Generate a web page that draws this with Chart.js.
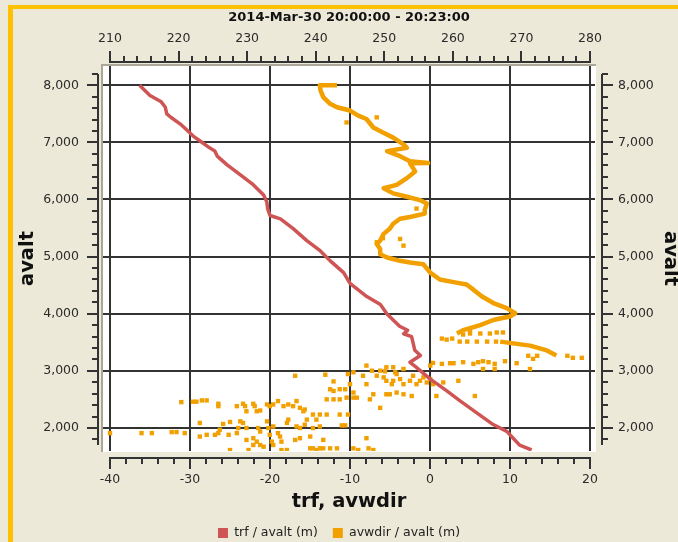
<!DOCTYPE html>
<html><head><meta charset="utf-8">
<script src="https://cdn.jsdelivr.net/npm/chart.js@4"></script>
<style>html,body{margin:0;padding:0;background:#ECE9D8;}canvas{display:block;}</style>
</head><body>
<canvas id="c" width="678" height="542"></canvas>
<script>
const titleText = '2014-Mar-30 20:00:00 - 20:23:00';
const xTitle = 'trf, avwdir';
const yTitle = 'avalt';
const trfLabel = 'trf / avalt (m)';
const avwdirLabel = 'avwdir / avalt (m)';

const bottomTicks = [-40, -30, -20, -10, 0, 10, 20];
const topTicks = [210, 220, 230, 240, 250, 260, 270, 280];
const altTicks = [2000, 3000, 4000, 5000, 6000, 7000, 8000];

const trfValues = [-36.3,-35.0,-33.6,-33.1,-32.9,-32.4,-31.2,-29.6,-28.7,-27.5,-26.9,-26.6,-25.4,-23.7,-22.1,-20.8,-20.4,-20.3,-20.0,-18.7,-17.1,-15.4,-13.7,-12.5,-10.8,-10.0,-7.9,-6.2,-5.4,-3.8,-2.8,-3.3,-2.3,-2.1,-1.9,-1.2,-2.5,-1.7,0.0,2.1,3.8,5.8,7.9,9.6,10.4,11.2,12.7];
const trfAlt = [8000,7820,7710,7620,7500,7440,7320,7110,7020,6900,6850,6760,6610,6430,6260,6080,5960,5840,5720,5660,5490,5280,5100,4930,4720,4530,4300,4160,4000,3780,3710,3650,3600,3480,3360,3270,3150,3060,2860,2650,2470,2270,2060,1940,1820,1700,1615];

const avwdirTraceValues = [243.1,240.6,240.7,241.1,242.1,243.1,245.0,246.2,247.4,248.4,249.8,251.3,252.8,253.3,250.4,252.3,253.75,256.4,253.75,254.5,253.3,251.8,249.9,251.3,253.3,255.2,256.2,255.9,255.9,253.75,252.3,251.3,250.8,249.9,249.4,248.9,249.4,249.4,250.4,252.3,253.75,255.7,256.7,258.1,260.1,262.0,263.0,264.2,265.9,267.85,269.1,268.3,265.9,264.0,261.5,260.6];
const avwdirTraceAlt = [8000,8000,7911,7792,7675,7615,7557,7468,7409,7260,7172,7083,6966,6906,6847,6758,6670,6640,6634,6492,6374,6256,6196,6107,6049,5990,5930,5813,5753,5694,5664,5575,5487,5398,5281,5221,5132,5043,4985,4926,4896,4866,4719,4600,4554,4511,4422,4305,4187,4098,4009,3951,3890,3802,3713,3654];

const avwdirBranchValues = [266.9,269.1,271.25,273.7,275.1];
const avwdirBranchAlt = [3512,3477,3442,3358,3270];

const avwdirScatterValues = [
258.4,259.1,259.9,261.0,262.1,263.5,265.0,266.3,261.5,262.5,264.0,265.4,266.4,267.3,262.5,271.0,271.7,272.3,276.7,277.5,278.8,
256.7,257.1,258.4,259.6,260.1,261.5,263.0,263.7,264.4,265.2,266.1,267.6,269.3,264.4,266.1,271.25,260.8,263.2,257.6,
250.1,251.3,251.6,252.8,250.3,251.1,252.3,252.8,253.75,254.2,254.7,255.2,255.7,256.2,256.7,257.1,258.6,250.3,251.8,252.8,254.0,249.4,
210.0,214.6,216.1,219.0,219.7,220.9,220.4,222.1,222.6,223.4,224.1,225.8,225.8,228.5,229.4,229.7,229.9,230.9,231.1,231.4,231.9,232.9,233.3,233.8,234.5,235.3,236.0,236.7,237.2,237.7,238.2,238.4,
237.0,241.4,242.6,242.1,242.6,243.5,241.6,242.6,243.5,244.5,245.5,246.0,244.7,245.5,245.0,244.3,245.5,
247.4,248.2,246.9,247.4,248.9,249.4,249.9,250.3,251.3,251.8,250.8,248.4,247.9,
239.6,240.6,241.6,240.1,238.7,240.6,239.6,237.7,238.4,243.5,244.7,243.8,244.3,
223.1,226.5,227.5,229.0,229.4,229.9,228.7,228.5,227.3,226.0,225.8,
231.6,231.9,232.9,233.1,233.8,234.5,234.8,235.8,236.0,237.2,237.7,237.0,239.2,241.1,239.6,240.6,242.1,243.1,245.5,246.2,247.4,247.7,248.4,
223.1,224.1,225.3,229.9,230.9,231.4,231.9,232.4,230.9,230.2,227.5,233.3,233.6,233.8,235.0,235.0,235.8,239.2,240.1,241.1,
244.5,248.9,252.3,252.8,249.8,248.9,254.7
];
const avwdirScatterAlt = [
3565,3547,3565,3512,3512,3512,3512,3512,3636,3654,3654,3654,3672,3672,3707,3264,3210,3264,3264,3228,3228,
3092,3139,3122,3134,3134,3152,3122,3152,3169,3152,3122,3169,3134,3033,3033,3033,2826,2560,2560,
2992,3063,2975,3033,2826,2767,2856,2767,2826,2914,2767,2826,2886,2797,2856,2767,2797,2590,2620,2590,2560,2353,
1910,1910,1910,1928,1928,1910,2453,2460,2460,2483,2483,2424,2382,2382,2424,2382,2293,2424,2382,2293,2306,2412,2382,2412,2471,2382,2412,2382,2471,2353,2293,2323,
2914,2932,2815,2678,2648,2678,2501,2501,2501,2531,2531,2531,2944,2975,2767,2678,2620,
3092,3003,2914,2767,2914,3003,2886,3063,2826,2944,2590,2590,2501,
2235,2235,2235,2146,2146,2027,1999,1999,2057,2235,2235,2045,2045,
2088,2070,2105,2116,2088,1999,1999,1910,1880,1969,1910,
1999,1938,2116,1999,2027,1910,1850,2088,2146,2027,1821,1791,1850,1791,1644,1644,1644,1644,1644,1614,1821,1644,1614,
1850,1880,1880,1791,1821,1761,1702,1672,1702,1614,1614,1880,1761,1702,1761,1614,1614,1644,1614,1644,
7349,7438,5309,5192,5322,5251,5841
];

const RED = '#CF5555';
const ORANGE = '#F2A000';
const pts = (xs, ys) => xs.map((x, i) => ({x: x, y: ys[i]}));

Chart.defaults.font.family = "'DejaVu Sans', sans-serif";

const axisDecor = {
  id: 'axisDecor',
  beforeDraw(chart) {
    const {ctx, chartArea: ca} = chart;
    ctx.save();
    ctx.fillStyle = '#ECE9D8';
    ctx.fillRect(0, 0, chart.width, chart.height);
    ctx.fillStyle = '#FFC000';
    ctx.fillRect(8, 5, chart.width - 8, 4);
    ctx.fillRect(8, 5, 5, chart.height - 5);
    ctx.fillStyle = '#FFFFFF';
    ctx.fillRect(ca.left - 1, ca.top - 1, ca.right - ca.left + 2, ca.bottom - ca.top + 2);
    ctx.fillStyle = '#ACA899';
    ctx.fillRect(ca.left - 2, ca.top - 2, 2, ca.bottom - ca.top + 3);
    ctx.fillRect(ca.left - 2, ca.top - 2, ca.right - ca.left + 3, 2);
    ctx.restore();
  },
  afterDraw(chart) {
    const {ctx, chartArea: ca, scales} = chart;
    ctx.save();
    ctx.strokeStyle = '#333';
    ctx.lineWidth = 2;
    const seg = (x1, y1, x2, y2) => { ctx.beginPath(); ctx.moveTo(x1, y1); ctx.lineTo(x2, y2); ctx.stroke(); };
    const xs = scales.x; const yb = Math.round(ca.bottom) + 7;
    const bx0 = Math.round(xs.getPixelForValue(bottomTicks[0])), bx1 = Math.round(xs.getPixelForValue(bottomTicks[bottomTicks.length - 1]));
    seg(bx0 - 1, yb, bx1 + 1, yb);
    for (let v = bottomTicks[0]; v <= bottomTicks[bottomTicks.length - 1]; v += 2) {
      const p = Math.round(xs.getPixelForValue(v));
      seg(p, yb, p, yb + (bottomTicks.includes(v) ? 11 : 6));
    }
    const x2 = scales.x2; const yt = Math.round(ca.top) - 4;
    const tx0 = Math.round(x2.getPixelForValue(topTicks[0])), tx1 = Math.round(x2.getPixelForValue(topTicks[topTicks.length - 1]));
    seg(tx0 - 1, yt, tx1 + 1, yt);
    for (let v = topTicks[0]; v <= topTicks[topTicks.length - 1]; v += 2) {
      const p = Math.round(x2.getPixelForValue(v));
      seg(p, yt, p, yt - (topTicks.includes(v) ? 11 : 6));
    }
    const ys = scales.y;
    const lx = Math.round(ca.left) - 5, rx = Math.round(ca.right) + 7;
    const yTop = Math.round(ys.getPixelForValue(8200)), yBot = Math.round(ys.getPixelForValue(1700));
    seg(lx, yTop, lx, yBot);
    seg(rx, yTop, rx, yBot);
    for (let v = 1800; v <= 8200; v += 200) {
      const p = Math.round(ys.getPixelForValue(v));
      const len = altTicks.includes(v) ? 11 : 6;
      seg(lx, p, lx - len, p);
      seg(rx, p, rx + len, p);
    }
    ctx.restore();
  }
};

const tickFont = {size: 12.5};
const tickColor = '#2b2b2b';

new Chart(document.getElementById('c'), {
  type: 'scatter',
  data: {
    datasets: [
      {label: trfLabel, data: pts(trfValues, trfAlt), xAxisID: 'x', yAxisID: 'y', showLine: true,
       borderColor: RED, backgroundColor: RED, borderWidth: 3.5, pointRadius: 0, borderJoinStyle: 'round'},
      {label: avwdirLabel, data: pts(avwdirTraceValues, avwdirTraceAlt), xAxisID: 'x2', yAxisID: 'y', showLine: true,
       borderColor: ORANGE, backgroundColor: ORANGE, borderWidth: 4.5, pointRadius: 0, borderJoinStyle: 'round'},
      {label: '_scatter', data: pts(avwdirScatterValues, avwdirScatterAlt), xAxisID: 'x2', yAxisID: 'y',
       borderColor: ORANGE, backgroundColor: ORANGE, pointStyle: 'rect', pointRadius: 3.1, pointBorderWidth: 0, pointHoverRadius: 3.1},
      {label: '_branch', data: pts(avwdirBranchValues, avwdirBranchAlt), xAxisID: 'x2', yAxisID: 'y', showLine: true,
       borderColor: ORANGE, backgroundColor: ORANGE, borderWidth: 4.5, pointRadius: 0, borderJoinStyle: 'round'}
    ]
  },
  options: {
    responsive: false,
    animation: false,
    devicePixelRatio: 1,
    layout: {padding: {left: 0, right: 0, top: 0, bottom: -7.25}},
    plugins: {
      title: {display: false},
      tooltip: {enabled: false},
      legend: {
        position: 'bottom',
        labels: {
          boxWidth: 10, boxHeight: 10, padding: 15, color: '#222', font: {size: 12.5},
          generateLabels(chart) {
            return Chart.defaults.plugins.legend.labels.generateLabels(chart)
              .filter(i => i.datasetIndex < 2)
              .map(i => Object.assign(i, {lineWidth: 0}));
          }
        }
      }
    },
    scales: {
      x: {
        type: 'linear', position: 'bottom', min: -40.875, max: 20.625,
        afterBuildTicks: s => { s.ticks = bottomTicks.map(v => ({value: v})); },
        afterFit: s => { s.height = 60.75; },
        ticks: {padding: 21.5, font: tickFont, color: tickColor, autoSkip: false, maxRotation: 0},
        grid: {color: '#333', lineWidth: 2, drawTicks: false},
        border: {display: false},
        title: {display: true, text: xTitle, color: '#111', font: {size: 19.5, weight: 'bold'}, padding: {top: 0, bottom: -2}}
      },
      x2: {
        type: 'linear', position: 'top', min: 208.979, max: 280.729,
        afterBuildTicks: s => { s.ticks = topTicks.map(v => ({value: v})); },
        afterFit: s => { s.height = 66; },
        ticks: {padding: 19.3, font: tickFont, color: tickColor, autoSkip: false, maxRotation: 0},
        grid: {display: false, drawTicks: false},
        border: {display: false},
        title: {display: true, text: titleText, color: '#111', font: {size: 13, weight: 'bold'}, padding: {top: 10.2, bottom: 0}}
      },
      y: {
        type: 'linear', position: 'left', min: 1597, max: 8337,
        afterBuildTicks: s => { s.ticks = altTicks.map(v => ({value: v})); },
        afterFit: s => { s.width = 103; },
        ticks: {padding: 24, font: tickFont, color: tickColor, autoSkip: false, callback: v => v.toLocaleString('en-US')},
        grid: {color: '#333', lineWidth: 2, drawTicks: false},
        border: {display: false},
        title: {display: true, text: yTitle, color: '#111', font: {size: 19.5, weight: 'bold'}, padding: {top: 16.3, bottom: 0}}
      },
      y2: {
        type: 'linear', position: 'right', min: 1597, max: 8337,
        afterBuildTicks: s => { s.ticks = altTicks.map(v => ({value: v})); },
        afterFit: s => { s.width = 83; },
        ticks: {padding: 23, font: tickFont, color: tickColor, autoSkip: false, callback: v => v.toLocaleString('en-US')},
        grid: {display: false, drawTicks: false},
        border: {display: false},
        title: {display: true, text: yTitle, color: '#111', font: {size: 19.5, weight: 'bold'}, padding: {top: -3.7, bottom: 0}}
      }
    }
  },
  plugins: [axisDecor]
});
</script>
</body></html>
